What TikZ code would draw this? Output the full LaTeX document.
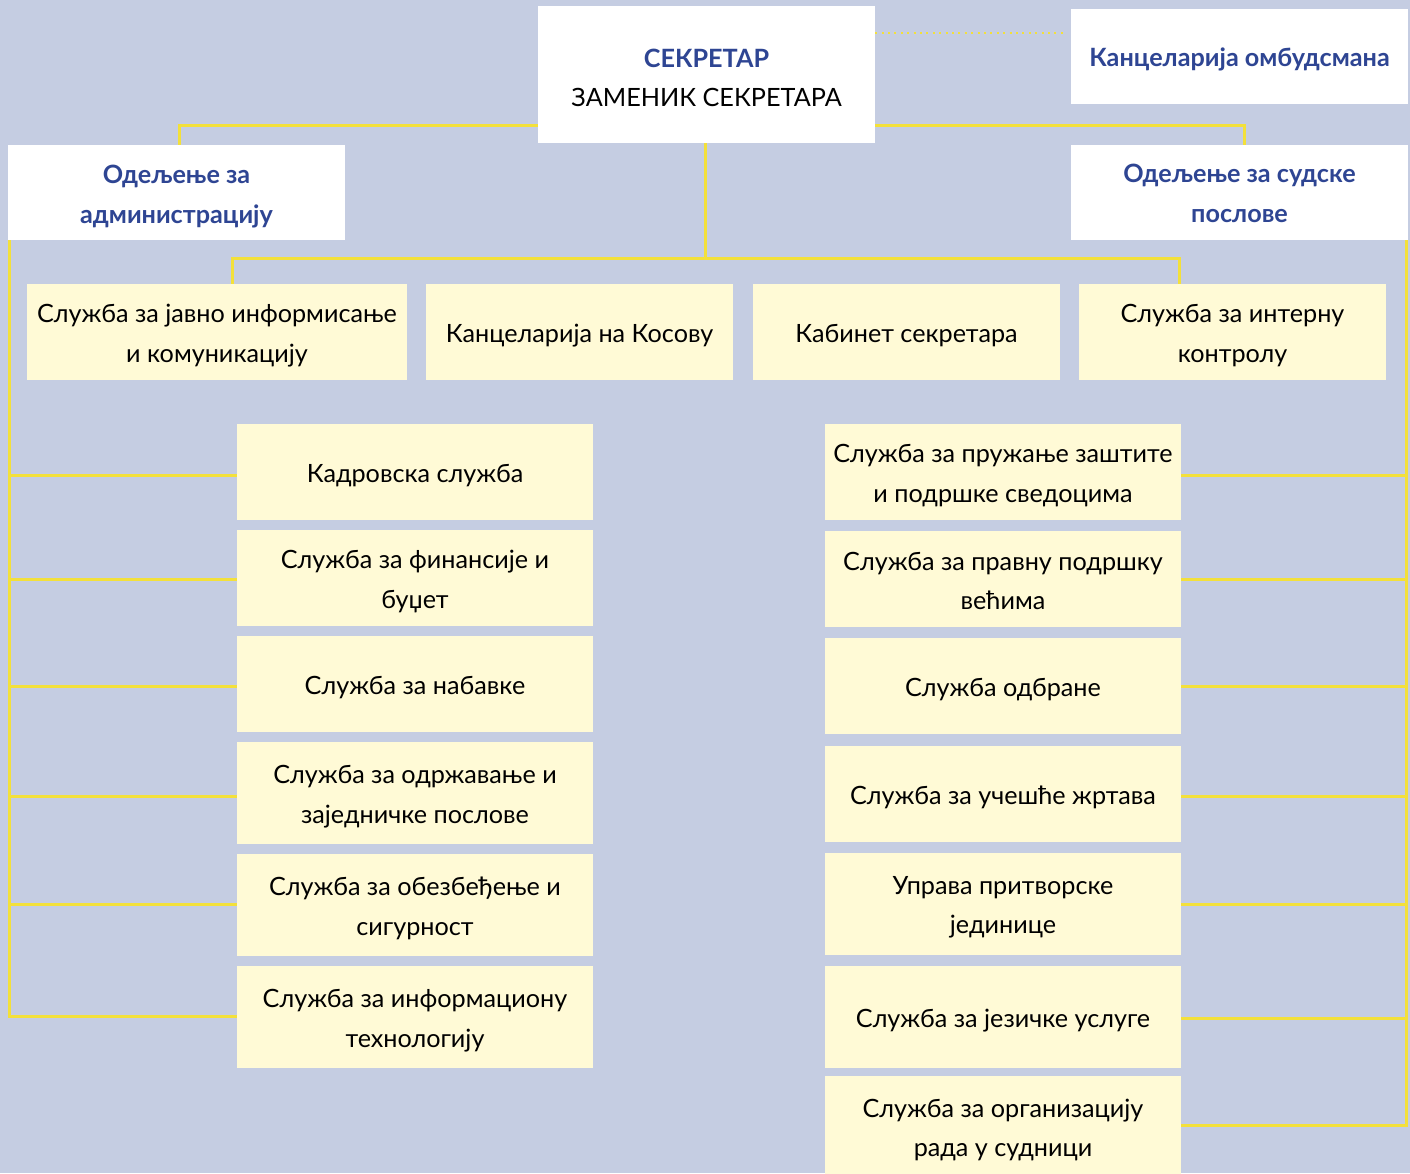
\documentclass[tikz,border=0pt]{standalone}
\usepackage{fontspec}
\setmainfont{Lato}
\definecolor{bg}{HTML}{C5CDE2}
\definecolor{ybox}{HTML}{FFFAD6}
\definecolor{yline}{HTML}{F3E03A}
\definecolor{hblue}{HTML}{2E4593}
\newcommand\mybx[7][-3.5]{%
  \node[#6,minimum width=#4,minimum height=#5] (#2) at (#3) {};
  \node[txt,#6txt] (#2t) at ([yshift=#1]#2.center) {#7};}
\begin{document}
\begin{tikzpicture}[x=1pt,y=-1pt,
  box/.style={inner sep=0pt},
  wbox/.style={box,fill=white},
  ylbox/.style={box,fill=ybox},
  txt/.style={inner sep=0pt,align=center,font=\fontsize{25.2}{39.5}\selectfont,text=black},
  wboxtxt/.style={},
  ylboxtxt/.style={},
  hdtxt/.style={text=hblue,font=\fontsize{25.2}{40}\selectfont\bfseries},
  hd/.style={wbox},
  conn/.style={draw=yline,line width=3pt},
  dotconn/.style={draw=yline,line width=2pt,dash pattern=on 2pt off 4.4pt}
]
\fill[bg] (0,0) rectangle (1410,1173);
\useasboundingbox (0,0) rectangle (1410,1173);
% header boxes
\mybx{sek}{706.5,74.5}{337}{137}{wbox}{{\color{hblue}\bfseries СЕКРЕТАР}\\ЗАМЕНИК СЕКРЕТАРА}
\mybx[-2.5]{omb}{1239.5,56.5}{337}{95}{hd}{Канцеларија омбудсмана}
\mybx[-4]{adm}{176.5,192.5}{337}{95}{hd}{Одељење за\\администрацију}
\mybx[-0.5]{sud}{1239.5,192.5}{337}{95}{hd}{Одељење за судске\\послове}
% row
\mybx{r1}{217,332}{380}{96}{ylbox}{Служба за јавно информисање\\и комуникацију}
\mybx{r2}{579.5,332}{307}{96}{ylbox}{Канцеларија на Косову}
\mybx{r3}{906.5,332}{307}{96}{ylbox}{Кабинет секретара}
\mybx{r4}{1232.5,332}{307}{96}{ylbox}{Служба за интерну\\контролу}
% left column
\mybx{l1}{415,472}{356}{96}{ylbox}{Кадровска служба}
\mybx{l2}{415,578}{356}{96}{ylbox}{Служба за финансије и\\буџет}
\mybx{l3}{415,684}{356}{96}{ylbox}{Служба за набавке}
\mybx{l4}{415,793}{356}{102}{ylbox}{Служба за одржавање и\\заједничке послове}
\mybx{l5}{415,905}{356}{102}{ylbox}{Служба за обезбеђење и\\сигурност}
\mybx{l6}{415,1017}{356}{102}{ylbox}{Служба за информациону\\технологију}
% right column
\mybx{q1}{1003,472}{356}{96}{ylbox}{Служба за пружање заштите\\и подршке сведоцима}
\mybx[-2]{q2}{1003,579}{356}{96}{ylbox}{Служба за правну подршку\\већима}
\mybx{q3}{1003,686}{356}{96}{ylbox}{Служба одбране}
\mybx{q4}{1003,794}{356}{96}{ylbox}{Служба за учешће жртава}
\mybx{q5}{1003,904}{356}{102}{ylbox}{Управа притворске\\јединице}
\mybx{q6}{1003,1017}{356}{102}{ylbox}{Служба за језичке услуге}
\mybx[-5]{q7}{1003,1125}{356}{98}{ylbox}{Служба за организацију\\рада у судници}
% connectors
\coordinate (tl) at (538,125.5);
\coordinate (tr) at (875,125.5);
\draw[conn] (tl) -| ([xshift=2.5]adm.north);
\draw[conn] (tr) -| ([xshift=5]sud.north);
\coordinate (mid) at (705.5,258.5);
\draw[conn] ([xshift=-1]sek.south) -- (mid);
\draw[conn] ([xshift=15.5]r1.north) |- (mid) -| ([xshift=-53]r4.north);
\draw[dotconn] ([yshift=-27.5]sek.north east) -- ([xshift=-5,yshift=-24.5]omb.north west);
% left branches
\coordinate (lt) at (9.5,240);
\draw[conn] (lt) |- ([yshift=-3.5]l1.west);
\draw[conn] (lt) |- ([yshift=-1.5]l2.west);
\draw[conn] (lt) |- ([yshift=-2.5]l3.west);
\draw[conn] (lt) |- ([yshift=-3.5]l4.west);
\draw[conn] (lt) |- ([yshift=0.5]l5.west);
\draw[conn] (lt) |- ([yshift=0.5]l6.west);
% right branches
\coordinate (rt) at (1406.5,240);
\draw[conn] (rt) |- ([yshift=-3.5]q1.east);
\draw[conn] (rt) |- ([yshift=-0.5]q2.east);
\draw[conn] (rt) |- ([yshift=-0.5]q3.east);
\draw[conn] (rt) |- ([yshift=-2.5]q4.east);
\draw[conn] (rt) |- ([yshift=-0.5]q5.east);
\draw[conn] (rt) |- ([yshift=-1.5]q6.east);
\draw[conn] (rt) |- ([yshift=-0.5]q7.east);
\end{tikzpicture}
\end{document}
